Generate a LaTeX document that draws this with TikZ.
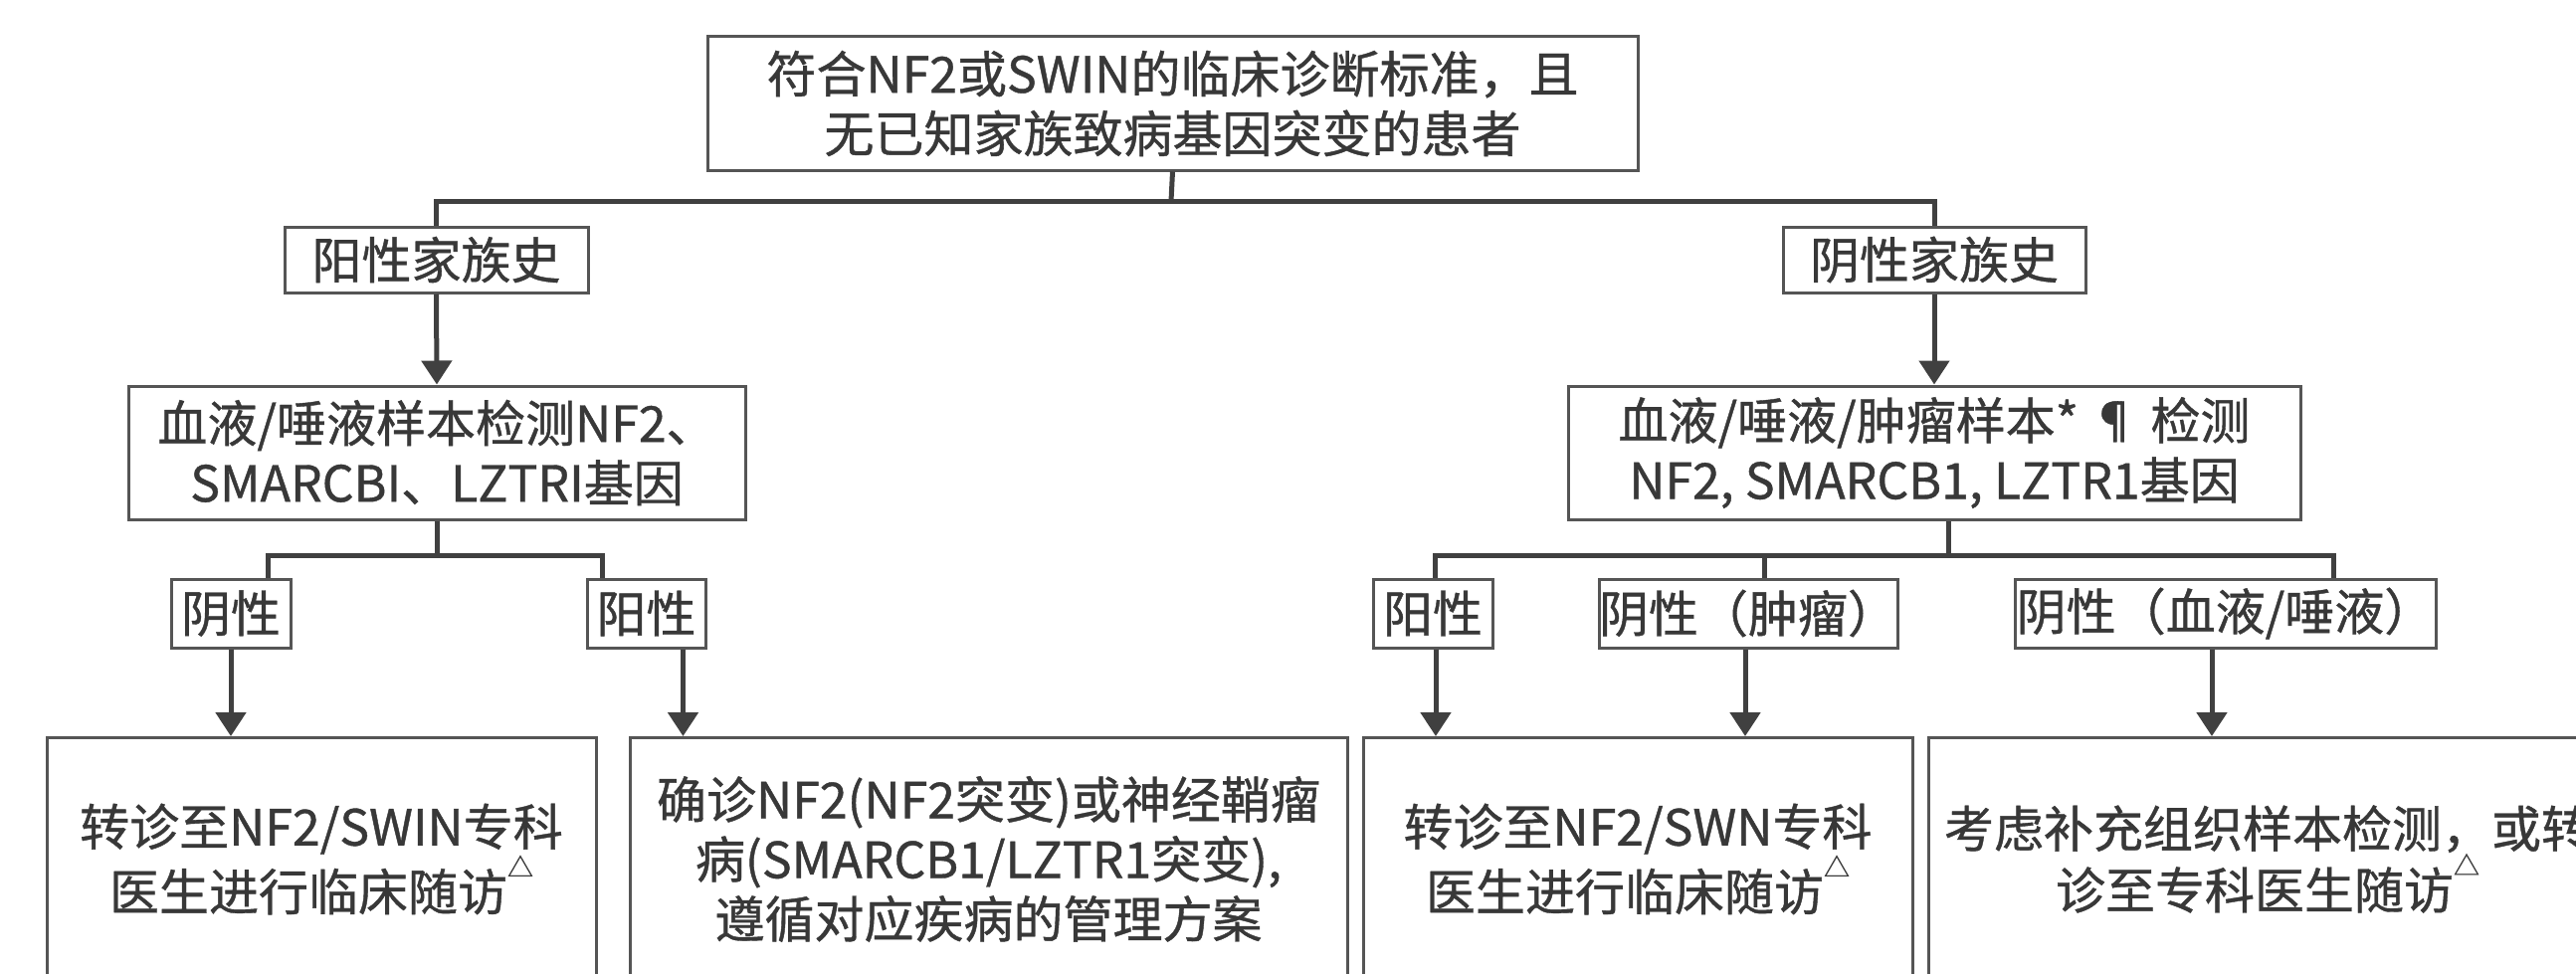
\documentclass[tikz,border=0pt]{standalone}
\usepackage{fontspec}
\setmainfont{Noto Sans CJK SC}[FakeBold=0.8]
\usetikzlibrary{arrows.meta,calc}
\definecolor{ln}{HTML}{404040}
\definecolor{bx}{HTML}{555555}
\definecolor{tx}{HTML}{383838}
\newcommand\tritop{\raisebox{34pt}{\fontsize{26}{26}\selectfont △}}
\tikzset{
  box/.style={draw=bx, line width=3pt, text=tx, align=center, inner sep=0pt,
    font=\fontsize{50}{60}\selectfont},
  conn/.style={draw=ln, line width=5pt},
  arr/.style={draw=ln, line width=5pt, -{Triangle[length=24pt,width=30pt]}},
}
\begin{document}
\begin{tikzpicture}[x=1pt,y=-1pt]
\clip (0,0) rectangle (2589,979);
\fill[white] (0,0) rectangle (2589,979);
% level 0
\node[box, minimum width=935pt, minimum height=134pt] (top) at (1178.5,104)
  {符合NF2或SWIN的临床诊断标准，且\\无已知家族致病基因突变的患者};
% level 1
\node[box, minimum width=305pt, minimum height=66pt] (phist) at (438.5,261) {阳性家族史};
\node[box, minimum width=304pt, minimum height=66pt] (nhist) at (1944,261) {阴性家族史};
\coordinate (j1) at (1177,202);
\draw[conn] (top.south) -- (j1);
\draw[conn] (phist.north) |- (j1) -| (nhist.north);
% level 2
\node[box, minimum width=620pt, minimum height=134pt] (lbox) at (439,455)
  {血液/唾液样本检测NF2、\\SMARCBI、LZTRI基因};
\node[box, minimum width=736pt, minimum height=134pt] (rbox) at (1944,455)
  {血液/唾液/肿瘤样本* ¶ 检测\\NF2, SMARCB1, LZTR1基因};
\draw[arr] (phist.south) -- (lbox.north);
\draw[arr] (nhist.south) -- (rbox.north);
% level 3 left
\node[box, minimum width=120pt, minimum height=69pt] (lneg) at (232,616.5) {阴性};
\node[box, minimum width=119pt, minimum height=69pt] (lpos) at (649.5,616.5) {阳性};
\coordinate (j2) at (439,558);
\coordinate (lnegin) at ($(lneg.north)+(37,0)$);
\coordinate (lposin) at ($(lpos.north)+(-44.5,0)$);
\draw[conn] (lbox.south) -- (j2);
\draw[conn] (lnegin) |- (j2) -| (lposin);
% level 3 right
\node[box, minimum width=120pt, minimum height=69pt] (rpos) at (1440,616.5) {阳性};
\node[box, minimum width=294pt, minimum height=69pt] (rnegt) at (1757,616.5) {阴性（肿瘤）};
\node[box, minimum width=423pt, minimum height=69pt] (rnegb) at (2236.5,616.5) {阴性（血液/唾液）};
\coordinate (j3) at (1958,558);
\coordinate (rposin) at ($(rpos.north)+(2,0)$);
\coordinate (rnegtin) at ($(rnegt.north)+(16,0)$);
\coordinate (rnegbin) at ($(rnegb.north)+(108.5,0)$);
\draw[conn] ($(rbox.south)+(14,0)$) -- (j3);
\draw[conn] (rposin) |- (j3) -| (rnegbin);
\draw[conn] (rnegtin) -- (rnegtin |- j3);
% level 4
\node[box, anchor=north, minimum width=552pt, minimum height=244pt] (boxA) at (323,740)
  {转诊至NF2/SWIN专科\\医生进行临床随访\tritop};
\node[box, anchor=north, minimum width=721pt, minimum height=244pt] (boxB) at (993.5,740)
  {确诊NF2(NF2突变)或神经鞘瘤\\病(SMARCB1/LZTR1突变),\\遵循对应疾病的管理方案};
\node[box, anchor=north, minimum width=552pt, minimum height=244pt] (boxC) at (1646,740)
  {转诊至NF2/SWN专科\\医生进行临床随访\tritop};
\node[box, anchor=north, minimum width=682pt, minimum height=244pt] (boxD) at (2279,740)
  {考虑补充组织样本检测，或转\\诊至专科医生随访\tritop};
% arrows to level 4
\coordinate (a1) at (lneg.south);
\coordinate (a2) at ($(lpos.south)+(37,0)$);
\coordinate (a3) at ($(rpos.south)+(3,0)$);
\coordinate (a4) at ($(rnegt.south)+(-3,0)$);
\coordinate (a5) at ($(rnegb.south)+(-13.5,0)$);
\draw[arr] (a1) -- (a1 |- boxA.north);
\draw[arr] (a2) -- (a2 |- boxB.north);
\draw[arr] (a3) -- (a3 |- boxC.north);
\draw[arr] (a4) -- (a4 |- boxC.north);
\draw[arr] (a5) -- (a5 |- boxD.north);
\end{tikzpicture}
\end{document}
